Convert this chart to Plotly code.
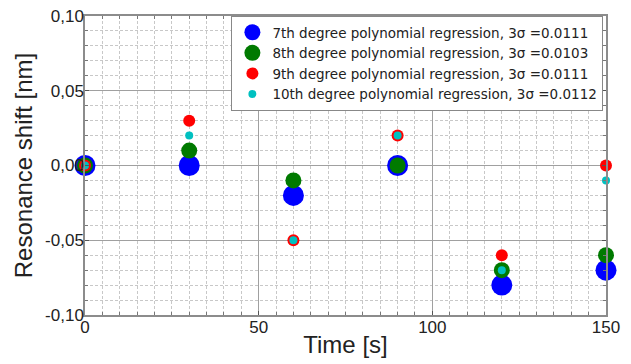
import plotly.graph_objects as go

time_s = [0, 30, 60, 90, 120, 150]
deg7 = [0.0, 0.0, -0.02, 0.0, -0.08, -0.07]
deg8 = [0.0, 0.01, -0.01, 0.0, -0.07, -0.06]
deg9 = [0.0, 0.03, -0.05, 0.02, -0.06, 0.0]
deg10 = [0.0, 0.02, -0.05, 0.02, -0.07, -0.01]

series_names = [
    "7th degree polynomial regression, 3\u03c3 =0.0111",
    "8th degree polynomial regression, 3\u03c3 =0.0103",
    "9th degree polynomial regression, 3\u03c3 =0.0111",
    "10th degree polynomial regression, 3\u03c3 =0.0112",
]
y_tickvals = [-0.10, -0.05, 0.0, 0.05, 0.10]
y_ticktext = ["-0,10", "-0,05", "0,00", "0,05", "0,10"]
x_tickvals = [0, 50, 100, 150]

colors = ["#0000ff", "#007a00", "#ff0000", "#00c0c0"]
sizes = [21, 16, 12, 8]

fig = go.Figure()
for name, ys, c, s in zip(series_names, [deg7, deg8, deg9, deg10], colors, sizes):
    fig.add_trace(go.Scatter(
        x=time_s, y=ys, mode="markers", name=name,
        marker=dict(color=c, size=s, line=dict(width=0)),
        cliponaxis=False,
    ))

FONT = "Liberation Sans, Arial, sans-serif"
axis_common = dict(
    showline=True, linecolor="#8c8c8c", linewidth=1.5, mirror="ticks",
    ticks="inside", ticklen=4, tickcolor="#555555",
    gridcolor="#a0a0a0", gridwidth=1, zeroline=False, automargin=False,
    ticklabeloverflow="allow",
    tickfont=dict(family=FONT, size=17, color="#222222"),
)

# page body has an 8px default margin; figure is sized to fit the 631x364 window
fig.update_layout(
    width=623, height=356,
    margin=dict(l=77, r=25, t=8, b=49),
    paper_bgcolor="white", plot_bgcolor="white",
    separators=",.",
    font=dict(family=FONT, color="#222222"),
    showlegend=True,
    legend=dict(
        x=0.995, y=1.0, xanchor="right", yanchor="top",
        bgcolor="white", bordercolor="#888888", borderwidth=1,
        font=dict(size=13.5, color="#222222", family="DejaVu Sans, sans-serif"),
        tracegroupgap=0, itemsizing="trace", itemwidth=30,
    ),
    xaxis=dict(
        range=[0, 150], tickvals=x_tickvals, ticklabelstandoff=-4,
        title=dict(text="Time [s]", font=dict(size=24), standoff=0),
        minor=dict(dtick=5, showgrid=True, gridcolor="#c8c8c8", griddash="3px,2px",
                   ticks="inside", ticklen=3, tickcolor="#777777"),
        **axis_common,
    ),
    yaxis=dict(
        range=[-0.10, 0.10], tickvals=y_tickvals, ticktext=y_ticktext,
        ticklabelstandoff=-4,
        title=dict(text="Resonance shift [nm]", font=dict(size=24), standoff=6),
        minor=dict(dtick=0.01, showgrid=True, gridcolor="#c8c8c8", griddash="3px,2px",
                   ticks="inside", ticklen=3, tickcolor="#777777"),
        **axis_common,
    ),
)

fig.write_html("out.html")
